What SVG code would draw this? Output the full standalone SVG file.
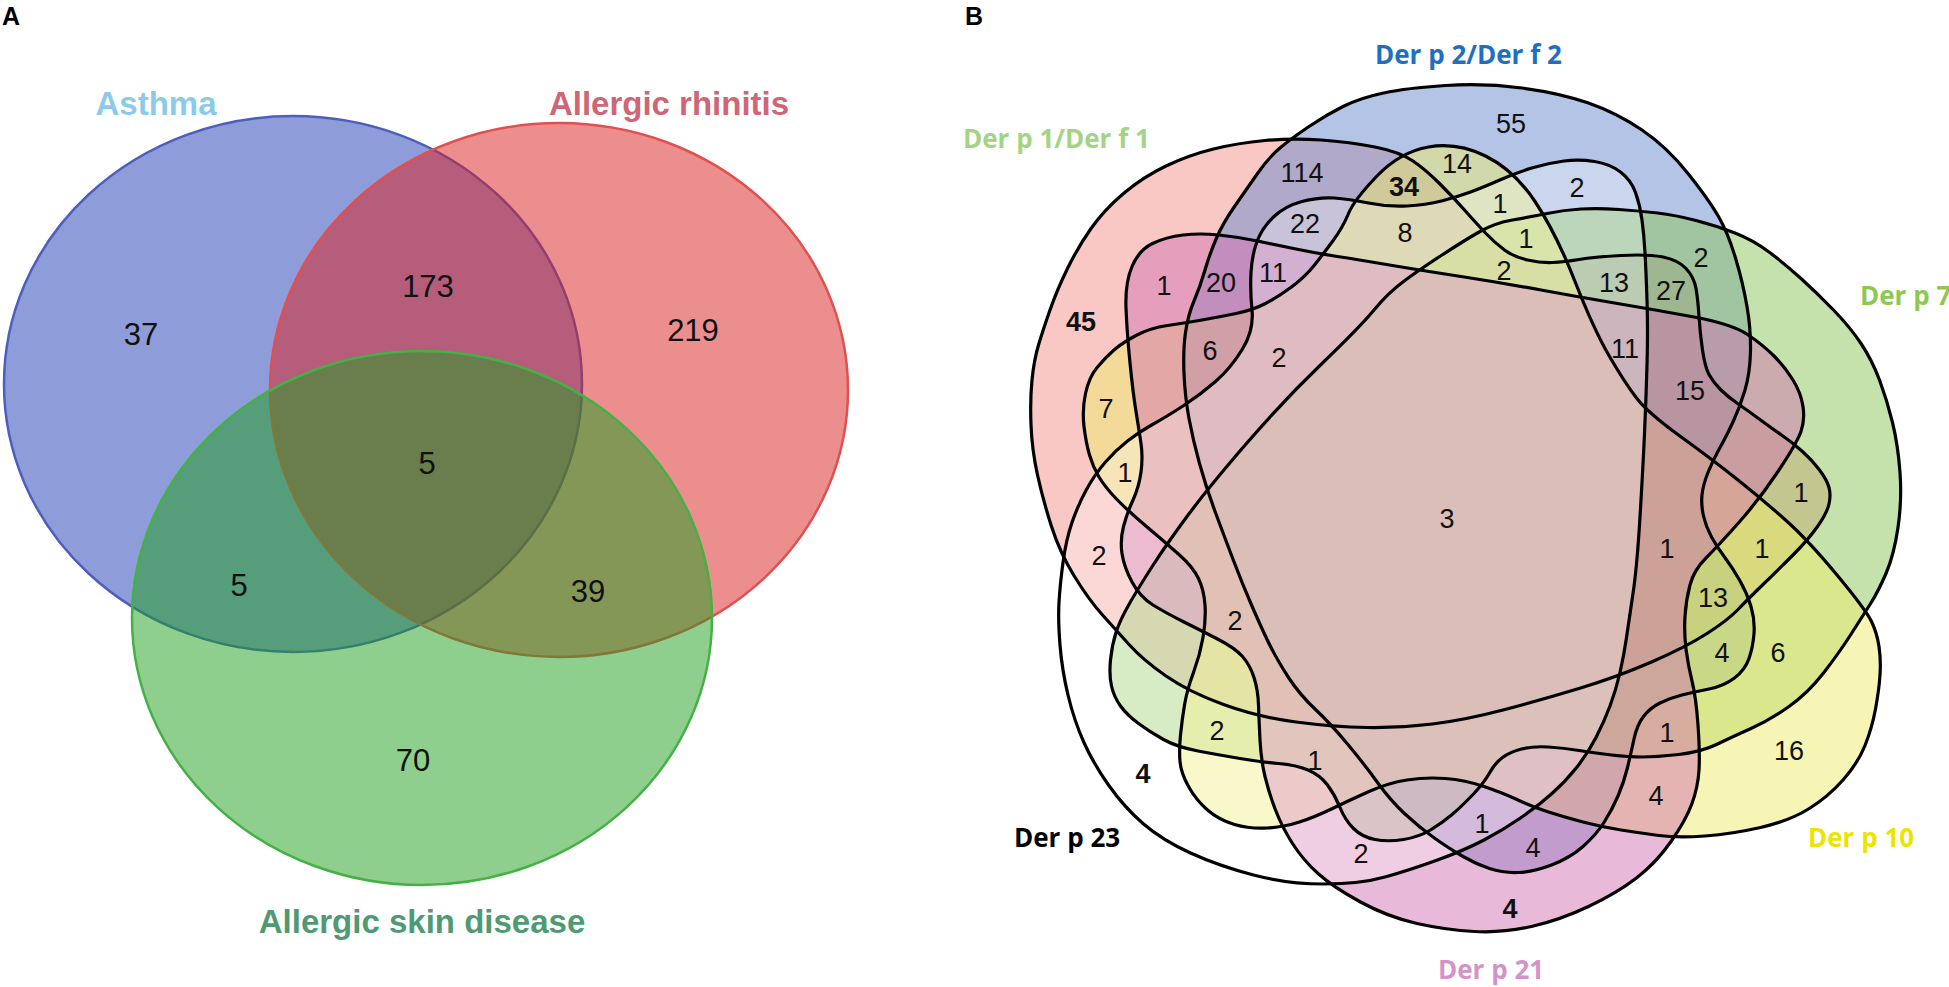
<svg xmlns="http://www.w3.org/2000/svg" xmlns:xlink="http://www.w3.org/1999/xlink" width="1949" height="987" viewBox="0 0 1949 987">
<style>
.lblA{font-family:"Liberation Sans",Arial,sans-serif;font-weight:bold;font-size:33px;text-anchor:middle}
.numA{font-family:"Liberation Sans",Arial,sans-serif;font-size:31px;text-anchor:middle;fill:#111}
.panel{font-family:"Liberation Sans",Arial,sans-serif;font-weight:bold;font-size:25px;fill:#000}
.lblB{font-family:"Open Sans","Noto Sans",sans-serif;font-weight:bold;font-size:26px}
.numB{font-family:"Liberation Sans",Arial,sans-serif;font-size:27px;text-anchor:middle;fill:#111}
.bold{font-weight:bold}
.setfill{stroke:none;fill-opacity:0.5}
.outline{fill:none;stroke:#000;stroke-width:3.2;stroke-linejoin:round}
</style>
<rect width="1949" height="987" fill="#fff"/>
<text class="panel" x="2" y="25">A</text>
<text class="panel" x="965" y="25">B</text>
<g id="panelA">
<g id="asthma"><ellipse cx="293" cy="384" rx="289" ry="268" fill="rgb(30,60,180)" fill-opacity="0.5" stroke="#4d5fbd" stroke-width="2.5"/></g>
<g id="rhinitis"><ellipse cx="559" cy="390" rx="289" ry="267" fill="rgb(220,30,30)" fill-opacity="0.5" stroke="#e05050" stroke-width="2.5"/></g>
<g id="skin"><ellipse cx="422" cy="618" rx="290" ry="267" fill="rgb(30,160,30)" fill-opacity="0.5" stroke="#45b045" stroke-width="2.5"/></g>
<text class="lblA" x="156" y="115" fill="#8ccbe8">Asthma</text>
<text class="lblA" x="669" y="115" fill="#cf6676" font-size="32">Allergic rhinitis</text>
<text class="lblA" x="422" y="933" fill="#4f9a72">Allergic skin disease</text>
<text class="numA" x="141" y="345">37</text>
<text class="numA" x="428" y="297">173</text>
<text class="numA" x="693" y="341">219</text>
<text class="numA" x="427" y="474">5</text>
<text class="numA" x="239" y="596">5</text>
<text class="numA" x="588" y="602">39</text>
<text class="numA" x="413" y="771">70</text>
</g>
<defs>
<path id="sP1" d="M1265,140.5 Q1292,138 1321,140 Q1350,142 1375,147 Q1400,152 1413,161 Q1426,170 1439.5,183.5 Q1453,197 1464.5,210 Q1476,223 1485.5,233 Q1495,243 1504.5,250 Q1514,257 1527.5,260 Q1541,263 1552.5,262.5 Q1564,262 1579,259.5 Q1594,257 1621,255.5 Q1648,254 1663,257 Q1678,260 1686,268.5 Q1694,277 1696,288.5 Q1698,300 1699,316.5 Q1700,333 1702.5,350 Q1705,367 1709,374.5 Q1713,382 1720.5,389.5 Q1728,397 1737.5,403.5 Q1747,410 1758.5,418.5 Q1770,427 1781.5,435 Q1793,443 1802.5,451.5 Q1812,460 1819.5,470 Q1827,480 1829,487.5 Q1831,495 1829,504 Q1827,513 1817.5,526.5 Q1808,540 1793,555 Q1778,570 1762.5,585 Q1747,600 1737.5,610 Q1728,620 1707,633.5 Q1686,647 1651.5,662 Q1617,677 1579,688.5 Q1541,700 1503,710 Q1465,720 1432.5,724 Q1400,728 1367,727.5 Q1334,727 1296,722 Q1258,717 1223.5,704.5 Q1189,692 1166,676 Q1143,660 1129.5,645 Q1116,630 1102.5,615 Q1089,600 1074.5,576.5 Q1060,553 1051.5,526.5 Q1043,500 1037.5,475 Q1032,450 1031,425 Q1030,400 1032,380 Q1034,360 1038.5,345 Q1043,330 1050,310 Q1057,290 1067.5,268.5 Q1078,247 1091,228.5 Q1104,210 1123.5,193.5 Q1143,177 1166,166 Q1189,155 1213.5,149 Q1238,143 1265,140.5 Z"/>
<path id="sP2" d="M1280.5,147.5 Q1292,138 1309,126.5 Q1326,115 1343,106.5 Q1360,98 1383.5,93 Q1407,88 1445.5,85.5 Q1484,83 1522,88 Q1560,93 1588.5,103 Q1617,113 1642,130 Q1667,147 1688,173.5 Q1709,200 1718.5,216.5 Q1728,233 1735.5,258 Q1743,283 1747,306.5 Q1751,330 1750.5,351.5 Q1750,373 1745,390 Q1740,407 1733,422 Q1726,437 1719.5,448.5 Q1713,460 1708,472.5 Q1703,485 1702,495 Q1701,505 1703.5,516 Q1706,527 1711.5,537 Q1717,547 1724.5,557 Q1732,567 1739.5,580 Q1747,593 1751,606.5 Q1755,620 1754,633.5 Q1753,647 1749,658.5 Q1745,670 1734.5,678 Q1724,686 1709,689 Q1694,692 1682,695 Q1670,698 1660,703 Q1650,708 1643.5,716.5 Q1637,725 1634,739 Q1631,753 1627.5,767.5 Q1624,782 1618,796 Q1612,810 1604,822.5 Q1596,835 1583,846.5 Q1570,858 1551.5,865 Q1533,872 1518,872.5 Q1503,873 1489.5,868.5 Q1476,864 1463,856.5 Q1450,849 1435,838.5 Q1420,828 1405,814 Q1390,800 1377.5,782.5 Q1365,765 1347.5,744 Q1330,723 1315,709 Q1300,695 1288.5,677.5 Q1277,660 1269,643.5 Q1261,627 1251.5,605 Q1242,583 1232.5,558 Q1223,533 1214.5,510 Q1206,487 1199.5,463.5 Q1193,440 1189,418.5 Q1185,397 1184,373.5 Q1183,350 1185.5,332.5 Q1188,315 1194,301 Q1200,287 1205,270 Q1210,253 1216.5,238 Q1223,223 1234.5,206.5 Q1246,190 1257.5,173.5 Q1269,157 1280.5,147.5 Z"/>
<path id="sP7" d="M1403.5,281.5 Q1419,270 1442,255 Q1465,240 1480,231.5 Q1495,223 1512.5,220 Q1530,217 1547,213.5 Q1564,210 1581,209 Q1598,208 1619,209.5 Q1640,211 1657.5,213 Q1675,215 1696,220.5 Q1717,226 1735,233 Q1753,240 1769,252 Q1785,264 1801,278.5 Q1817,293 1833.5,310 Q1850,327 1861,343.5 Q1872,360 1879.5,380 Q1887,400 1892.5,422.5 Q1898,445 1900,472.5 Q1902,500 1898,527.5 Q1894,555 1886,573.5 Q1878,592 1870,604.5 Q1862,617 1850.5,635 Q1839,653 1823.5,673 Q1808,693 1789,706.5 Q1770,720 1751,728.5 Q1732,737 1716.5,744.5 Q1701,752 1678.5,754.5 Q1656,757 1642.5,757 Q1629,757 1611.5,755 Q1594,753 1579,750.5 Q1564,748 1548.5,747 Q1533,746 1521.5,749 Q1510,752 1502.5,757.5 Q1495,763 1489.5,773 Q1484,783 1472.5,795 Q1461,807 1451.5,815 Q1442,823 1430.5,830 Q1419,837 1403.5,839.5 Q1388,842 1375,839.5 Q1362,837 1353.5,828.5 Q1345,820 1340,807.5 Q1335,795 1327.5,785 Q1320,775 1308,770 Q1296,765 1278.5,763.5 Q1261,762 1240,758.5 Q1219,755 1198,751 Q1177,747 1163.5,739.5 Q1150,732 1138.5,723.5 Q1127,715 1120.5,706 Q1114,697 1111.5,686 Q1109,675 1110.5,660 Q1112,645 1116,632.5 Q1120,620 1129.5,603.5 Q1139,587 1152.5,566 Q1166,545 1187,516.5 Q1208,488 1246,444 Q1284,400 1322,363.5 Q1360,327 1374,310 Q1388,293 1403.5,281.5 Z"/>
<path id="sP10" d="M1348.5,213.5 Q1354,200 1377,176 Q1400,152 1428.5,147 Q1457,142 1485.5,156 Q1514,170 1535,201.5 Q1556,233 1575,281.5 Q1594,330 1609.5,356.5 Q1625,383 1636.5,398 Q1648,413 1680.5,436.5 Q1713,460 1738,480 Q1763,500 1785.5,520 Q1808,540 1837,575 Q1866,610 1871.5,621.5 Q1877,633 1879,646.5 Q1881,660 1880,675 Q1879,690 1875.5,709 Q1872,728 1865,745.5 Q1858,763 1843,780 Q1828,797 1808.5,809 Q1789,821 1760.5,827.5 Q1732,834 1705,836 Q1678,838 1659,835.5 Q1640,833 1621,830 Q1602,827 1583,822 Q1564,817 1548.5,812 Q1533,807 1518,800 Q1503,793 1484,786.5 Q1465,780 1445.5,778.5 Q1426,777 1407,780 Q1388,783 1369,791.5 Q1350,800 1332.5,808.5 Q1315,817 1299.5,822 Q1284,827 1267,828 Q1250,829 1234.5,824.5 Q1219,820 1207.5,810 Q1196,800 1188.5,786.5 Q1181,773 1180,761.5 Q1179,750 1180.5,735 Q1182,720 1184.5,705 Q1187,690 1193.5,672.5 Q1200,655 1203,637.5 Q1206,620 1205,605 Q1204,590 1198.5,578.5 Q1193,567 1179.5,555 Q1166,543 1146.5,526.5 Q1127,510 1116,498.5 Q1105,487 1099,477 Q1093,467 1089.5,455 Q1086,443 1084,426.5 Q1082,410 1085.5,393.5 Q1089,377 1097.5,367 Q1106,357 1114,350 Q1122,343 1136,335.5 Q1150,328 1167.5,325.5 Q1185,323 1202,320 Q1219,317 1236,313.5 Q1253,310 1265.5,303.5 Q1278,297 1291.5,287 Q1305,277 1314.5,265 Q1324,253 1333.5,240 Q1343,227 1348.5,213.5 Z"/>
<path id="sP21" d="M1126,308 Q1125,283 1132,266.5 Q1139,250 1152.5,243.5 Q1166,237 1183,235 Q1200,233 1219,235 Q1238,237 1257.5,241 Q1277,245 1296,249 Q1315,253 1337.5,256.5 Q1360,260 1389.5,265 Q1419,270 1461,276.5 Q1503,283 1541,290 Q1579,297 1617.5,303.5 Q1656,310 1694,317 Q1732,324 1747.5,334.5 Q1763,345 1774,356 Q1785,367 1793,380 Q1801,393 1803,406.5 Q1805,420 1801,431.5 Q1797,443 1778,471.5 Q1759,500 1738,523.5 Q1717,547 1705.5,558.5 Q1694,570 1690,585 Q1686,600 1685,616.5 Q1684,633 1686,649 Q1688,665 1692,681 Q1696,697 1698,725 Q1700,753 1699,770 Q1698,787 1692,803.5 Q1686,820 1671,841.5 Q1656,863 1636.5,878 Q1617,893 1588.5,906.5 Q1560,920 1531.5,926.5 Q1503,933 1474.5,931.5 Q1446,930 1417,923.5 Q1388,917 1360.5,902 Q1333,887 1318,873.5 Q1303,860 1292.5,843.5 Q1282,827 1275.5,810 Q1269,793 1265,776.5 Q1261,760 1260,740 Q1259,720 1258.5,705 Q1258,690 1254,677.5 Q1250,665 1242.5,656.5 Q1235,648 1217.5,639 Q1200,630 1183,621.5 Q1166,613 1153,605 Q1140,597 1132,582 Q1124,567 1122,553.5 Q1120,540 1123.5,526.5 Q1127,513 1133,500 Q1139,487 1141,472 Q1143,457 1141,443.5 Q1139,430 1136,411.5 Q1133,393 1130,363 Q1127,333 1126,308 Z"/>
<path id="sP23" d="M1242.5,349 Q1254,330 1252,310 Q1250,290 1251,272.5 Q1252,255 1257,241.5 Q1262,228 1273.5,217 Q1285,206 1302,201.5 Q1319,197 1334,198 Q1349,199 1368.5,203 Q1388,207 1407,206 Q1426,205 1441.5,201 Q1457,197 1470.5,192 Q1484,187 1501,179.5 Q1518,172 1533.5,167.5 Q1549,163 1564,161 Q1579,159 1594.5,161.5 Q1610,164 1620.5,172 Q1631,180 1635.5,192.5 Q1640,205 1642,220 Q1644,235 1645,252.5 Q1646,270 1647,300 Q1648,330 1647,365 Q1646,400 1644.5,433.5 Q1643,467 1640,517 Q1637,567 1633,593.5 Q1629,620 1626.5,637.5 Q1624,655 1620,672.5 Q1616,690 1610,706 Q1604,722 1596,737.5 Q1588,753 1577,767 Q1566,781 1552,793.5 Q1538,806 1520.5,818 Q1503,830 1484,840 Q1465,850 1437.5,860 Q1410,870 1385,877 Q1360,884 1324,884 Q1288,884 1253.5,875 Q1219,866 1190.5,853 Q1162,840 1143,823.5 Q1124,807 1108.5,785 Q1093,763 1083.5,741.5 Q1074,720 1068,695 Q1062,670 1060,645 Q1058,620 1059,602.5 Q1060,585 1063,562.5 Q1066,540 1072,522.5 Q1078,505 1086.5,489.5 Q1095,474 1105.5,462 Q1116,450 1127.5,441 Q1139,432 1152.5,424.5 Q1166,417 1183,406 Q1200,395 1215.5,381.5 Q1231,368 1242.5,349 Z"/>
</defs>
<g id="panelB">
<g id="set-derp1"><use xlink:href="#sP1" class="setfill" fill="rgb(243,145,137)"/></g>
<g id="set-derp2"><use xlink:href="#sP2" class="setfill" fill="rgb(103,137,205)"/></g>
<g id="set-derp7"><use xlink:href="#sP7" class="setfill" fill="rgb(141,197,89)"/></g>
<g id="set-derp10"><use xlink:href="#sP10" class="setfill" fill="rgb(239,235,107)"/></g>
<g id="set-derp21"><use xlink:href="#sP21" class="setfill" fill="rgb(209,115,177)"/></g>
<g id="set-derp23"><use xlink:href="#sP23" class="setfill" fill="#fff" style="fill-opacity:0.3"/></g>
<g id="outlines">
<use xlink:href="#sP1" class="outline"/>
<use xlink:href="#sP2" class="outline"/>
<use xlink:href="#sP7" class="outline"/>
<use xlink:href="#sP10" class="outline"/>
<use xlink:href="#sP21" class="outline"/>
<use xlink:href="#sP23" class="outline"/>
</g>
<text class="lblB" x="963" y="148" fill="#a3d486">Der p 1/Der f 1</text>
<text class="lblB" x="1375" y="64" fill="#1f6fc0">Der p 2/Der f 2</text>
<text class="lblB" x="1860" y="305" fill="#8ec853">Der p 7</text>
<text class="lblB" x="1808" y="847" fill="#ece400">Der p 10</text>
<text class="lblB" x="1438" y="979" fill="#d493c6">Der p 21</text>
<text class="lblB" x="1014" y="847" fill="#000">Der p 23</text>
<g id="counts">
<text class="numB" x="1302" y="182">114</text>
<text class="numB" x="1305" y="233">22</text>
<text class="numB" x="1164" y="295">1</text>
<text class="numB" x="1221" y="292">20</text>
<text class="numB" x="1273" y="282">11</text>
<text class="numB bold" x="1081" y="331">45</text>
<text class="numB" x="1511" y="133">55</text>
<text class="numB" x="1457" y="173">14</text>
<text class="numB bold" x="1404" y="196">34</text>
<text class="numB" x="1577" y="197">2</text>
<text class="numB" x="1500" y="213">1</text>
<text class="numB" x="1405" y="242">8</text>
<text class="numB" x="1526" y="248">1</text>
<text class="numB" x="1504" y="280">2</text>
<text class="numB" x="1614" y="292">13</text>
<text class="numB" x="1671" y="300">27</text>
<text class="numB" x="1701" y="267">2</text>
<text class="numB" x="1210" y="360">6</text>
<text class="numB" x="1279" y="367">2</text>
<text class="numB" x="1106" y="418">7</text>
<text class="numB" x="1125" y="482">1</text>
<text class="numB" x="1099" y="565">2</text>
<text class="numB" x="1235" y="630">2</text>
<text class="numB" x="1625" y="358">11</text>
<text class="numB" x="1690" y="400">15</text>
<text class="numB" x="1447" y="528">3</text>
<text class="numB" x="1801" y="502">1</text>
<text class="numB" x="1667" y="558">1</text>
<text class="numB" x="1762" y="558">1</text>
<text class="numB" x="1713" y="607">13</text>
<text class="numB" x="1722" y="662">4</text>
<text class="numB" x="1778" y="662">6</text>
<text class="numB" x="1217" y="740">2</text>
<text class="numB" x="1315" y="770">1</text>
<text class="numB bold" x="1143" y="783">4</text>
<text class="numB" x="1667" y="742">1</text>
<text class="numB" x="1789" y="760">16</text>
<text class="numB" x="1656" y="805">4</text>
<text class="numB" x="1482" y="833">1</text>
<text class="numB" x="1533" y="857">4</text>
<text class="numB" x="1361" y="863">2</text>
<text class="numB bold" x="1510" y="918">4</text>
</g>
</g>
</svg>
